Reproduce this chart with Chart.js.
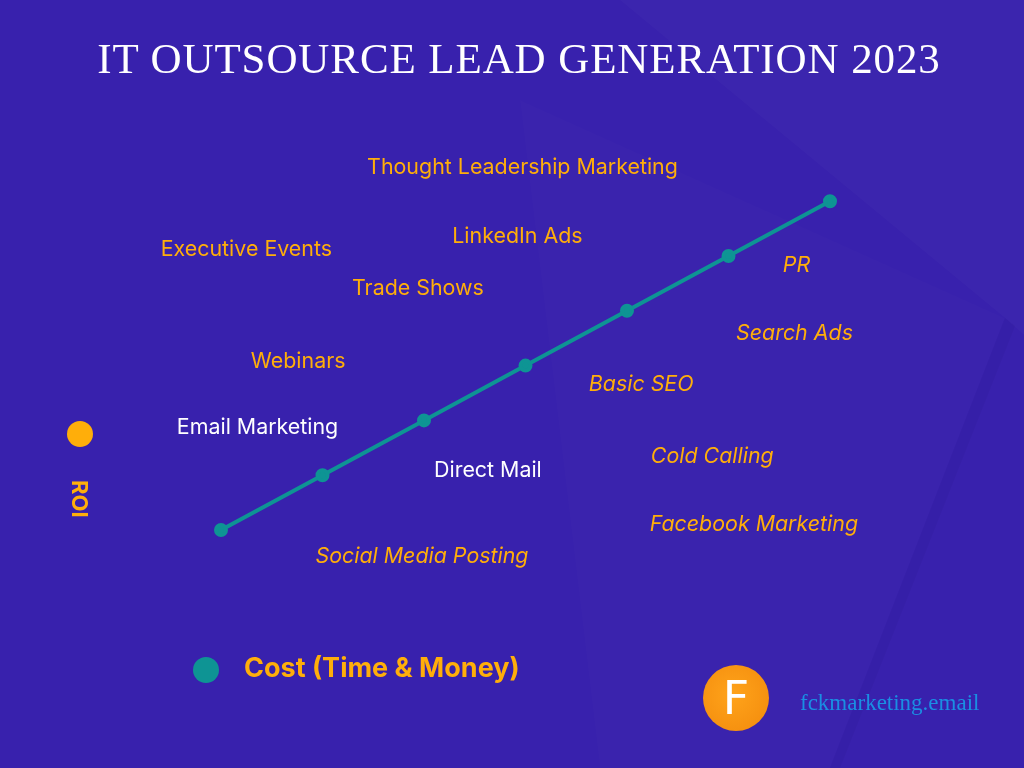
<!DOCTYPE html>
<html>
<head>
<meta charset="utf-8">
<script src="https://cdn.jsdelivr.net/npm/chart.js@4"></script>
<style>
  html, body { margin: 0; padding: 0; }
  body {
    width: 1024px; height: 768px; overflow: hidden; position: relative;
    background: #3821ad;
    font-family: Inter, "Noto Sans", sans-serif;
  }
  .shade {
    position: absolute; inset: 0;
    background: rgba(255,255,255,0.02);
    clip-path: polygon(620px 0, 1024px 0, 1024px 335px, 1005px 318px);
  }
  .shade3 {
    position: absolute; inset: 0;
    background: rgba(255,255,255,0.01);
    clip-path: polygon(520px 100px, 1005px 318px, 830px 768px, 600px 768px);
  }
  .shade2 {
    position: absolute; inset: 0;
    background: rgba(0,0,40,0.04);
    clip-path: polygon(1005px 318px, 1015px 326px, 840px 768px, 830px 768px);
  }
  #wrap { position: absolute; left: 0; top: 0; width: 1024px; height: 768px; }
  .title {
    position: absolute; left: 7px; width: 1024px; top: 34px; text-align: center;
    color: #fff; font-family: "Liberation Serif", serif; font-size: 43px;
    letter-spacing: 0.9px;
  }
  .dot { position: absolute; width: 26px; height: 26px; border-radius: 50%; }
  .roi-dot { left: 67px; top: 421px; background: #ffae0a; }
  .roi {
    position: absolute; left: 64px; top: 480px; color: #ffae0a;
    font-weight: 700; font-size: 22px; transform-origin: 0 0;
    transform: translate(29px, 0) rotate(90deg);
  }
  .cost-dot { left: 193px; top: 657px; background: #0e9494; }
  .cost {
    position: absolute; left: 244px; top: 651px; color: #ffae0a;
    font-weight: 700; font-size: 27px;
  }
  .logo {
    position: absolute; left: 703px; top: 665px; width: 66px; height: 66px; border-radius: 50%;
    background: radial-gradient(circle at 45% 45%, #ffa31a, #f28a0c);
    color: #fff; font-size: 46px; line-height: 66px; text-align: center;
    font-family: "DejaVu Sans", sans-serif;
  }
  .site {
    position: absolute; left: 800px; top: 690px; color: #1a8fe3;
    font-family: "Liberation Serif", serif; font-size: 23px;
  }
</style>
</head>
<body>
<div class="shade"></div>
<div class="shade3"></div>
<div class="shade2"></div>
<div id="wrap"><canvas id="c" width="1024" height="768"></canvas></div>
<div class="title">IT OUTSOURCE LEAD GENERATION 2023</div>
<div class="dot roi-dot"></div>
<div class="roi">ROI</div>
<div class="dot cost-dot"></div>
<div class="cost">Cost (Time &amp; Money)</div>
<div class="logo">F</div>
<div class="site">fckmarketing.email</div>
<script>
// trend line: cost vs ROI
const lineCost = [1, 2, 3, 4, 5, 6, 7];
const lineRoi = [1, 2, 3, 4, 5, 6, 7];

// lead generation methods placed by cost (x) and roi (y)
const methods = [
  "Thought Leadership Marketing", "LinkedIn Ads", "Executive Events", "Trade Shows",
  "PR", "Search Ads", "Webinars", "Basic SEO", "Email Marketing", "Direct Mail",
  "Cold Calling", "Facebook Marketing", "Social Media Posting"
];
const methodCost = [3.97, 3.92, 1.25, 2.94, 6.67, 6.65, 1.76, 5.14, 1.36, 3.63, 5.84, 6.25, 2.98];
const methodRoi = [7.64, 6.37, 6.13, 5.42, 5.85, 4.61, 4.10, 3.68, 2.88, 2.11, 2.35, 1.11, 0.54];
const methodItalic = [false, false, false, false, true, true, false, true, false, false, true, true, true];
const methodWhite = [false, false, false, false, false, false, false, false, true, true, false, false, false];

const labelPlugin = {
  id: "methodLabels",
  afterDatasetsDraw(chart) {
    const ctx = chart.ctx;
    const meta = chart.getDatasetMeta(1);
    ctx.save();
    ctx.textAlign = "center";
    ctx.textBaseline = "middle";
    meta.data.forEach((pt, i) => {
      ctx.font = (methodItalic[i] ? "italic " : "") + "21.4px Inter, 'Noto Sans', sans-serif";
      ctx.fillStyle = methodWhite[i] ? "#ffffff" : "#ffae0a";
      ctx.fillText(methods[i], pt.x, pt.y + 1);
    });
    ctx.restore();
  }
};

new Chart(document.getElementById("c").getContext("2d"), {
  type: "scatter",
  data: {
    datasets: [
      {
        label: "Cost (Time & Money)",
        data: lineCost.map((c, i) => ({ x: c, y: lineRoi[i] })),
        showLine: true,
        borderColor: "#0e9494",
        backgroundColor: "#0e9494",
        borderWidth: 4,
        pointRadius: 5,
        pointHoverRadius: 5
      },
      {
        label: "ROI",
        data: methodCost.map((c, i) => ({ x: c, y: methodRoi[i] })),
        pointRadius: 0,
        pointHoverRadius: 0,
        backgroundColor: "rgba(0,0,0,0)"
      }
    ]
  },
  options: {
    responsive: false,
    animation: false,
    layout: { padding: { left: 119.5, right: 92.5, top: 146.4, bottom: 183.2 } },
    plugins: { legend: { display: false }, tooltip: { enabled: false } },
    scales: {
      x: { type: "linear", min: 0, max: 8, display: false },
      y: { type: "linear", min: 0, max: 8, display: false }
    }
  },
  plugins: [labelPlugin]
});
</script>
</body>
</html>
